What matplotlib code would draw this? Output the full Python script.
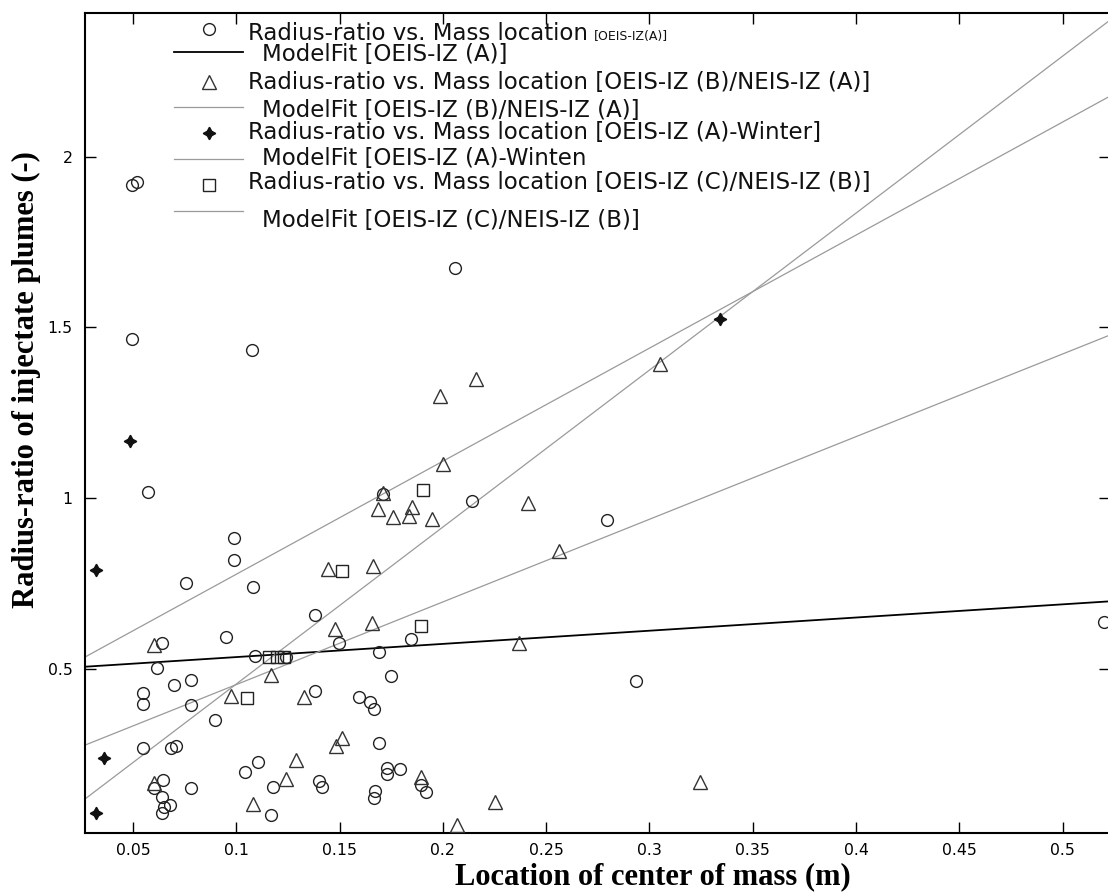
import numpy as np
import matplotlib.pyplot as plt
from matplotlib.lines import Line2D

## datos leidos del grafico
# circulos: Radius-ratio vs. Mass location [OEIS-IZ(A)]
circ_x = [0.0494, 0.0518, 0.0497, 0.1074, 0.0571, 0.0989, 0.0989, 0.0755, 0.108, 0.206,
          0.1712, 0.2139, 0.2793, 0.0616, 0.0643, 0.0551, 0.0551, 0.0698, 0.078, 0.078,
          0.095, 0.0898, 0.0548, 0.0682, 0.0707, 0.0646, 0.060, 0.0643, 0.0677, 0.0648,
          0.0643, 0.078, 0.104, 0.1106, 0.1089, 0.1178, 0.1169, 0.138, 0.138, 0.140,
          0.1417, 0.1499, 0.1594, 0.1645, 0.1668, 0.1693, 0.1749, 0.1689, 0.1732, 0.1732,
          0.1792, 0.1671, 0.1667, 0.1844, 0.1892, 0.1918, 0.124, 0.2937, 0.520]
circ_y = [1.916, 1.926, 1.465, 1.433, 1.018, 0.883, 0.819, 0.751, 0.739, 1.675,
          1.011, 0.991, 0.936, 0.502, 0.576, 0.429, 0.397, 0.453, 0.467, 0.394,
          0.593, 0.350, 0.268, 0.268, 0.274, 0.175, 0.151, 0.125, 0.101, 0.096,
          0.078, 0.151, 0.198, 0.227, 0.538, 0.154, 0.072, 0.658, 0.436, 0.172,
          0.155, 0.576, 0.418, 0.403, 0.382, 0.550, 0.479, 0.283, 0.210, 0.192,
          0.207, 0.143, 0.122, 0.587, 0.160, 0.140, 0.535, 0.464, 0.638]

# triangulos: [OEIS-IZ (B)/NEIS-IZ (A)]
tri_x = [0.2159, 0.1986, 0.305, 0.2002, 0.1712, 0.1684, 0.176, 0.1849, 0.1838, 0.1946,
         0.2413, 0.2563, 0.1446, 0.166, 0.0603, 0.117, 0.0976, 0.1326, 0.148, 0.1659,
         0.2368, 0.1512, 0.1485, 0.1288, 0.124, 0.060, 0.108, 0.1892, 0.225, 0.2068, 0.3244]
tri_y = [1.348, 1.299, 1.392, 1.099, 1.016, 0.968, 0.945, 0.975, 0.948, 0.938,
         0.987, 0.846, 0.791, 0.801, 0.570, 0.482, 0.421, 0.417, 0.616, 0.635,
         0.577, 0.298, 0.275, 0.233, 0.178, 0.167, 0.105, 0.184, 0.111, 0.043, 0.170]

# estrellas: [OEIS-IZ (A)-Winter]
star_x = [0.0319, 0.0358, 0.0319, 0.0485, 0.334]
star_y = [0.077, 0.240, 0.789, 1.168, 1.525]

# cuadrados: [OEIS-IZ (C)/NEIS-IZ (B)]
sq_x = [0.116, 0.1196, 0.123, 0.105, 0.1896, 0.1905, 0.151]
sq_y = [0.536, 0.536, 0.536, 0.414, 0.626, 1.025, 0.787]

# rectas ajustadas y = a + b*x  (A, B/NEIS-A, A-Winter, C/NEIS-B)
fit_a = [0.496, 0.212, 0.446, -0.004]
fit_b = [0.386, 2.42, 3.31, 4.596]

xticks = [0.05, 0.1, 0.15, 0.2, 0.25, 0.3, 0.35, 0.4, 0.45, 0.5]
xtick_labels = ["0.05", "0.1", "0.15", "0.2", "0.25", "0.3", "0.35", "0.4", "0.45", "0.5"]
yticks = [0.5, 1, 1.5, 2]
ytick_labels = ["0.5", "1", "1.5", "2"]

labels = ["Radius-ratio vs. Mass location",
          "ModelFit [OEIS-IZ (A)]",
          "Radius-ratio vs. Mass location [OEIS-IZ (B)/NEIS-IZ (A)]",
          "ModelFit [OEIS-IZ (B)/NEIS-IZ (A)]",
          "Radius-ratio vs. Mass location [OEIS-IZ (A)-Winter]",
          "ModelFit [OEIS-IZ (A)-Winten",
          "Radius-ratio vs. Mass location [OEIS-IZ (C)/NEIS-IZ (B)]",
          "ModelFit [OEIS-IZ (C)/NEIS-IZ (B)]"]
small_label = "[OEIS-IZ(A)]"

## figura
W, H = 1108, 892
fig = plt.figure(figsize=(W / 100, H / 100), dpi=100)
ax = fig.add_axes([85 / W, 1 - 833 / H, (1110 - 85) / W, (833 - 12.7) / H])
ax.set_xlim(0.0268, 0.5229)
ax.set_ylim(0.0196, 2.421)

grey = "#9a9a9a"
fit_colors = ["black", grey, grey, grey]
fit_lw = [1.3, 0.9, 0.9, 0.9]
xs = np.array(ax.get_xlim())
for a, b, c, lw in zip(fit_a, fit_b, fit_colors, fit_lw):
    ax.plot(xs, a + b * xs, color=c, lw=lw, zorder=2)

mk = dict(linestyle="none", mfc="none", mew=1.0, zorder=3)
ax.plot(circ_x, circ_y, marker="o", ms=8.5, mec="#222222", **mk)
ax.plot(tri_x, tri_y, marker="^", ms=9.5, mec="#333333", **mk)
ax.plot(star_x, star_y, marker=(4, 1, 0), ms=9, color="#111111", linestyle="none", zorder=3)
ax.plot(sq_x, sq_y, marker="s", ms=8, mec="#222222", **mk)

ax.set_xticks(xticks)
ax.set_xticklabels(xtick_labels)
ax.set_yticks(yticks)
ax.set_yticklabels(ytick_labels)
ax.tick_params(direction="in", length=8, width=1, top=True, right=True,
               labelsize=11.3, pad=7)
ax.tick_params(axis="y", pad=9)
for s in ax.spines.values():
    s.set_linewidth(1.5)

## etiquetas de ejes
fig.text(653 / W, 1 - 884 / H, "Location of center of mass (m)", ha="center", va="baseline",
         family="Liberation Serif", weight="bold", fontsize=22)
fig.text(26 / W, 1 - 380 / H, "Radius-ratio of injectate plumes (-)", ha="center", va="center",
         rotation=90, family="Liberation Serif", weight="bold", fontsize=22)

## leyenda manual
handle_y = [29, 52, 82, 107, 133, 159, 185, 211]
text_y = [33, 55, 83, 110, 133, 158, 183, 220]
handles = [dict(marker="o", ms=8.5, mfc="none", mec="#222222", mew=1.0),
           dict(color="black", lw=1.3),
           dict(marker="^", ms=9.5, mfc="none", mec="#333333", mew=1.0),
           dict(color=grey, lw=0.9),
           dict(marker=(4, 1, 0), ms=9, color="#111111"),
           dict(color=grey, lw=0.9),
           dict(marker="s", ms=8, mfc="none", mec="#222222", mew=1.0),
           dict(color=grey, lw=0.9)]
txts = []
for lab, hy, ty, h in zip(labels, handle_y, text_y, handles):
    yy = 1 - hy / H
    if "marker" in h:
        fig.add_artist(Line2D([209 / W], [yy], linestyle="none", transform=fig.transFigure, **h))
    else:
        fig.add_artist(Line2D([174 / W, 243 / W], [yy, yy], transform=fig.transFigure, **h))
    tx = 248 if lab.startswith("Radius") else 262
    t = fig.text(tx / W, 1 - ty / H, lab, va="center", ha="left", fontsize=16.5,
                 family="DejaVu Sans", color="#111111")
    txts.append(t)

ax.annotate(small_label, xy=(1, 0), xycoords=txts[0], xytext=(4, 1),
            textcoords="offset points", fontsize=9, va="bottom", ha="left",
            family="DejaVu Sans", color="#111111")

fig.savefig("out.png", dpi=100)
